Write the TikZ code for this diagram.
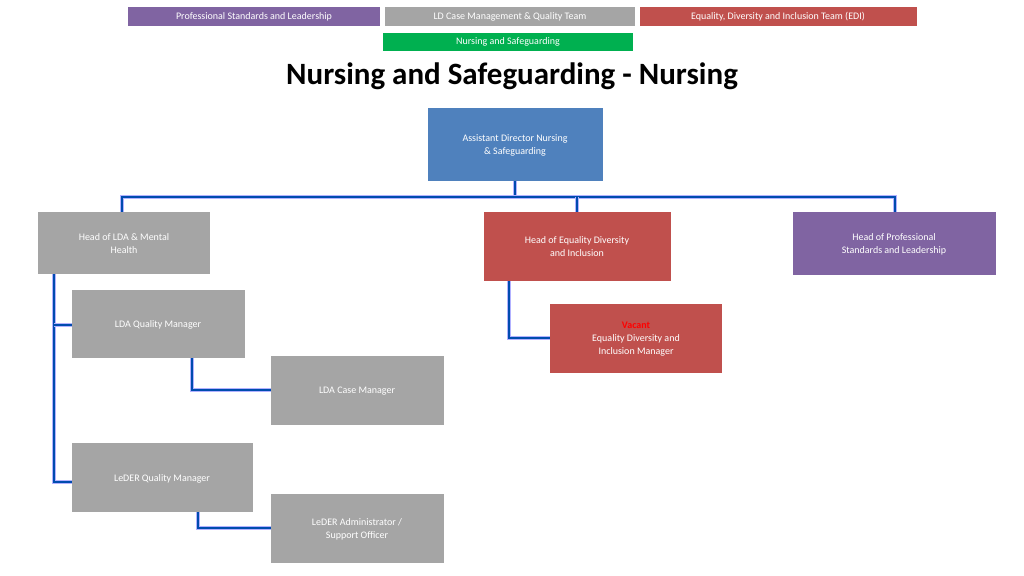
\documentclass[tikz,border=0pt]{standalone}
\usepackage{fontspec}
\setmainfont{Carlito}
\begin{document}
\begin{tikzpicture}[x=1pt,y=-1pt,
 box/.style={draw=none,text=white,align=center,font=\fontsize{10}{13}\selectfont,inner sep=2pt},
 tag/.style={box,font=\fontsize{10}{11}\selectfont},
 conn/.style={draw=blue!30!white,line width=3.2pt,postaction={draw=blue!55!black!70!cyan,line width=1.8pt}}]
\definecolor{cpur}{HTML}{8064A2}\definecolor{cgry}{HTML}{A5A5A5}
\definecolor{cred}{HTML}{C0504D}\definecolor{cblu}{HTML}{4F81BD}\definecolor{cgrn}{HTML}{00B050}
\useasboundingbox (0,0) rectangle (1024,575);
\fill[white](0,0) rectangle (1024,575);
\newcommand{\bx}[6]{\fill[#6] (#2,#3) rectangle (#4,#5); \node[box] (#1) at ({(#2+#4)/2},{(#3+#5)/2}) {};}
% legend
\fill[cpur](128,7) rectangle (380,26); \node[tag] (l1) at (254,16.5) {Professional Standards and Leadership};
\fill[cgry](385,7) rectangle (635,26); \node[tag] (l2) at (510,16.5) {LD Case Management \& Quality Team};
\fill[cred](640,7) rectangle (917,26); \node[tag] (l3) at (778,16.5) {Equality, Diversity and Inclusion Team (EDI)};
\fill[cgrn](383,33) rectangle (633,51); \node[tag] (l4) at (508,42) {Nursing and Safeguarding};
\node[font=\fontsize{31}{36}\selectfont\bfseries] (title) at (512,76) {Nursing and Safeguarding - Nursing};
% connectors first
\coordinate (b0) at (515,197); \coordinate (bl) at (127,197); \coordinate (br) at (895,197);
\draw[conn] (515,181) -- (b0);
\draw[conn] (122,212) -- (122,197) -- (895,197) -- (895,212);
\draw[conn] (577,197) -- (577,212);
\draw[conn] (54,274) -- (54,482) -- (72,482);
\draw[conn] (54,325) -- (72,325);
\draw[conn] (192,358) -- (192,390) -- (271,390);
\draw[conn] (198,512) -- (198,528) -- (271,528);
\draw[conn] (509,281) -- (509,338) -- (550,338);
% boxes
\fill[cblu](428,108) rectangle (603,181); \node[box] (ad) at (515,145) {Assistant Director Nursing\\\& Safeguarding};
\fill[cgry](38,212) rectangle (210,274); \node[box] (hl) at (124,244) {Head of LDA \& Mental\\Health};
\fill[cred](484,212) rectangle (671,281); \node[box] (he) at (577,247) {Head of Equality Diversity\\and Inclusion};
\fill[cpur](793,212) rectangle (996,275); \node[box] (hp) at (894,244) {Head of Professional\\Standards and Leadership};
\fill[cgry](72,290) rectangle (245,358); \node[box] (qm) at (158,325) {LDA Quality Manager};
\fill[cgry](271,356) rectangle (444,425); \node[box] (cm) at (357,391) {LDA Case Manager};
\fill[cgry](72,443) rectangle (253,512); \node[box] (lq) at (162,479) {LeDER Quality Manager};
\fill[cgry](271,494) rectangle (444,563); \node[box] (la) at (357,529) {LeDER Administrator /\\Support Officer};
\fill[cred](550,304) rectangle (722,373); \node[box] (vm) at (636,339) {\textcolor{red}{\textbf{Vacant}}\\Equality Diversity and\\Inclusion Manager};
\end{tikzpicture}
\end{document}
